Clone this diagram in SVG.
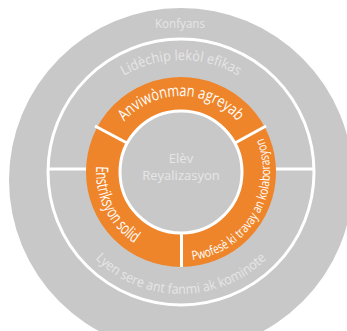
<svg xmlns="http://www.w3.org/2000/svg" width="347" height="331" viewBox="0 0 347 331">
<style>
.g{fill:#c9c8c9}
.w{stroke:#ffffff;stroke-width:3;fill:none}
.lt{fill:#e6e6e6;font-family:"Open Sans","Liberation Sans",sans-serif}
.wt{fill:#ffffff;font-family:"Open Sans","Liberation Sans",sans-serif}
</style>
<defs>
<path id="pTop" d="M 105 172 A 76 76 0 0 1 257 172"/>
<path id="pLid" d="M 69 172 A 112 112 0 0 1 293 172"/>
<path id="pLyen" d="M 59 172 A 122 122 0 0 0 303 172"/>
<path id="pLeft" d="M 181 87 A 85 85 0 0 0 181 257"/>
<path id="pRight" d="M 181 261 A 89 89 0 0 0 181 83"/>
</defs>
<g id="outer">
<circle class="g" cx="181" cy="180" r="172"/>
<text class="lt" x="180" y="28" font-size="13" text-anchor="middle" textLength="50" lengthAdjust="spacingAndGlyphs">Konfyans</text>
</g>
<g id="middle">
<circle class="w" cx="181" cy="172" r="133"/>
<text class="lt" font-size="14"><textPath href="#pLid" startOffset="50%" text-anchor="middle" textLength="120" lengthAdjust="spacingAndGlyphs">Lidèchip lekòl efikas</textPath></text>
<text class="lt" font-size="13.5"><textPath href="#pLyen" startOffset="50%" text-anchor="middle" textLength="190" lengthAdjust="spacingAndGlyphs">Lyen sere ant fanmi ak kominote</textPath></text>
</g>
<g id="orange">
<circle cx="181" cy="172" r="78.5" fill="none" stroke="#ef852a" stroke-width="33"/>
<text class="wt" font-size="16"><textPath href="#pTop" startOffset="50%" text-anchor="middle" textLength="128" lengthAdjust="spacingAndGlyphs">Anviwònman agreyab</textPath></text>
<text class="wt" font-size="17"><textPath href="#pLeft" startOffset="64.7%" text-anchor="middle" textLength="90" lengthAdjust="spacingAndGlyphs">Enstriksyon solid</textPath></text>
<text class="wt" font-size="13"><textPath href="#pRight" startOffset="33.3%" text-anchor="middle" textLength="163" lengthAdjust="spacingAndGlyphs">Pwofesè ki travay an kolaborasyon</textPath></text>
</g>
<g id="center">
<circle class="g" cx="181" cy="172" r="61" stroke="#ffffff" stroke-width="3"/>
<text class="lt" x="181" y="163" font-size="13" text-anchor="middle">Elèv</text>
<text class="lt" x="181" y="180" font-size="13" text-anchor="middle">Reyalizasyon</text>
</g>
<g id="connectors" stroke="#ffffff" stroke-width="3" fill="none">
<line x1="48" y1="169" x2="86" y2="169"/>
<line x1="276" y1="169" x2="313" y2="169"/>
<line x1="95" y1="126" x2="127" y2="143"/>
<line x1="266" y1="126" x2="235" y2="143"/>
<line x1="181.5" y1="232" x2="181.5" y2="267"/>
</g>
</svg>
